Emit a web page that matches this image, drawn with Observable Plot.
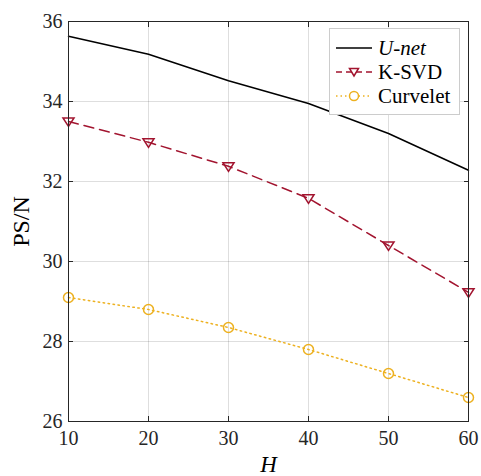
<!DOCTYPE html>
<html>
<head>
<meta charset="utf-8">
<script src="https://cdn.jsdelivr.net/npm/d3@7"></script>
<script src="https://cdn.jsdelivr.net/npm/@observablehq/plot@0.6"></script>
<style>
  html, body { margin: 0; padding: 0; background: #fff; }
  #wrap { position: relative; width: 481px; height: 476px; font-family: "Liberation Serif", "DejaVu Serif", serif; }
  #legend { position: absolute; left: 329px; top: 28px; width: 131px; height: 87px; background: #fff; border: 1px solid #cccccc; box-sizing: border-box; }
  .row { position: absolute; left: 0; height: 24px; display: flex; align-items: center; }
  .row span { font-size: 21px; color: #000; margin-left: 2px; }
</style>
</head>
<body>
<div id="wrap"></div>
<script>
const H = [10, 20, 30, 40, 50, 60];
const unet = [35.63, 35.18, 34.52, 33.95, 33.2, 32.28];
const ksvd = [33.5, 32.98, 32.38, 31.58, 30.4, 29.23];
const curvelet = [29.1, 28.8, 28.35, 27.8, 27.2, 26.6];
const xTicks = [10, 20, 30, 40, 50, 60];
const yTicks = [26, 28, 30, 32, 34, 36];
const seriesNames = ["U-net", "K-SVD", "Curvelet"];
const colors = ["#000000", "#A2142F", "#EDB120"];

const rows = (vals, name) => H.map((h, i) => ({H: h, v: vals[i], name}));
const dU = rows(unet, seriesNames[0]);
const dK = rows(ksvd, seriesNames[1]);
const dC = rows(curvelet, seriesNames[2]);

const triDown = {
  draw(ctx, size) {
    const s = Math.sqrt(size) * 1.0;
    const h = s * 0.9;
    ctx.moveTo(-s / 1.6, -h / 2.2);
    ctx.lineTo(s / 1.6, -h / 2.2);
    ctx.lineTo(0, h / 1.6);
    ctx.closePath();
  }
};

const axisColor = "#262626";
const font = "\"Liberation Serif\", \"DejaVu Serif\", serif";

const chart = Plot.plot({
  width: 481,
  height: 476,
  marginLeft: 68,
  marginRight: 13,
  marginTop: 21,
  marginBottom: 55,
  style: { fontFamily: font, fontSize: "19px", color: axisColor, background: "#fff" },
  x: { domain: [10, 60], ticks: xTicks },
  y: { domain: [26, 36], ticks: yTicks },
  marks: [
    Plot.gridX(xTicks, { stroke: "#000", strokeOpacity: 0.13 }),
    Plot.gridY(yTicks, { stroke: "#000", strokeOpacity: 0.13 }),
    Plot.axisX(xTicks, { anchor: "bottom", tickSize: -5, tickPadding: 14, fontSize: 20, stroke: axisColor, fill: axisColor, label: null }),
    Plot.axisX(xTicks, { anchor: "top", tickSize: -5, tickFormat: () => "", stroke: axisColor, label: null }),
    Plot.axisY(yTicks, { anchor: "left", tickSize: -5, tickPadding: 11, fontSize: 20, stroke: axisColor, fill: axisColor, label: null }),
    Plot.axisY(yTicks, { anchor: "right", tickSize: -5, tickFormat: () => "", stroke: axisColor, label: null }),
    Plot.line(dC, { x: "H", y: "v", stroke: colors[2], strokeWidth: 1.5, strokeDasharray: "1.5,3.5" }),
    Plot.dot(dC, { x: "H", y: "v", stroke: colors[2], r: 5, strokeWidth: 1.5, fill: "none" }),
    Plot.line(dK, { x: "H", y: "v", stroke: colors[1], strokeWidth: 1.5, strokeDasharray: "10,6" }),
    Plot.dot(dK, { x: "H", y: "v", stroke: colors[1], symbol: triDown, r: 5, strokeWidth: 1.5, fill: "none" }),
    Plot.line(dU, { x: "H", y: "v", stroke: colors[0], strokeWidth: 1.5 }),
    Plot.frame({ stroke: axisColor, strokeWidth: 1 }),
    Plot.text(["H"], { frameAnchor: "bottom", dy: 43, text: d => d, fontSize: 23, fontStyle: "italic", fill: "#000", lineAnchor: "middle" }),
    Plot.text(["PS/N"], { frameAnchor: "left", dx: -47, rotate: -90, text: d => d, fontSize: 24, fill: "#000", textAnchor: "middle", lineAnchor: "middle" })
  ]
});

const wrap = document.getElementById("wrap");
wrap.appendChild(chart);

// legend
const legend = document.createElement("div");
legend.id = "legend";
const styles = [
  { dash: "", marker: null },
  { dash: "6,4", marker: "tri" },
  { dash: "1.5,3", marker: "circ" }
];
seriesNames.forEach((name, i) => {
  const row = document.createElement("div");
  row.className = "row";
  row.style.top = (7 + i * 24) + "px";
  const sv = d3.create("svg").attr("width", 42).attr("height", 24).style("margin-left", "4px");
  sv.append("line").attr("x1", 2).attr("x2", 38).attr("y1", 12).attr("y2", 12)
    .attr("stroke", colors[i]).attr("stroke-width", 1.5).attr("stroke-dasharray", styles[i].dash || null);
  if (styles[i].marker === "tri") {
    sv.append("path").attr("d", "M15.5,8.5L24.5,8.5L20,16Z").attr("fill", "#fff").attr("stroke", colors[i]).attr("stroke-width", 1.5);
  } else if (styles[i].marker === "circ") {
    sv.append("circle").attr("cx", 20).attr("cy", 12).attr("r", 4.5).attr("fill", "#fff").attr("stroke", colors[i]).attr("stroke-width", 1.5);
  }
  row.appendChild(sv.node());
  const t = document.createElement("span");
  t.textContent = name;
  if (i === 0) t.style.fontStyle = "italic";
  row.appendChild(t);
  legend.appendChild(row);
});
wrap.appendChild(legend);
</script>
</body>
</html>
